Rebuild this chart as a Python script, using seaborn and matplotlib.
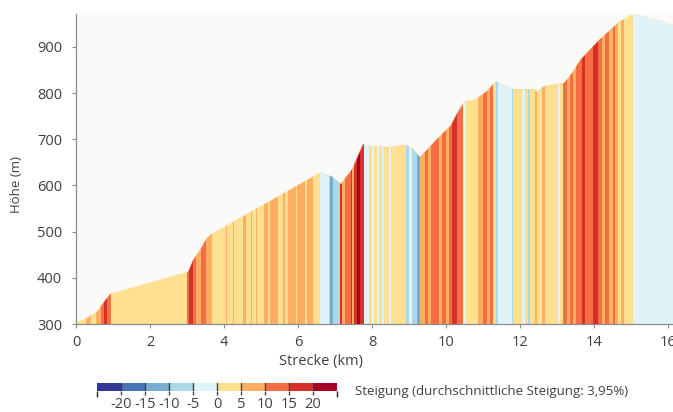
import numpy as np
import pandas as pd
import seaborn as sns
import matplotlib as mpl
import matplotlib.pyplot as plt
from matplotlib.colors import ListedColormap, BoundaryNorm

# -------------------------------
# data
# -------------------------------
# elevation profile: distance (km) / elevation (m)
distance_km = [0.00, 0.15, 0.29, 0.38, 0.56, 0.74, 0.92, 3.03, 3.16, 3.34, 3.52, 3.61,
               6.62, 6.94, 7.16, 7.30, 7.47, 7.76, 8.01, 8.46, 8.91, 9.09, 9.30, 9.72,
               10.13, 10.30, 10.49, 10.75, 11.07, 11.34, 11.52, 11.83, 12.37, 12.46,
               12.64, 13.18, 13.40, 13.63, 14.12, 14.66, 14.99, 15.20, 16.13]
elevation_m = [302, 309, 312, 317, 327, 346, 365, 413, 439, 460, 483, 493,
               628, 618, 603, 619, 635, 689, 685, 683, 688, 680, 662, 698,
               731, 756, 781, 784, 803, 825, 818, 808, 808, 803,
               815, 822, 843, 872, 915, 954, 969, 969, 948]

# gradient stripes: start of each stripe (km) and its gradient (%)
stripe_start = [0.00, 0.27, 0.40, 0.54, 0.67, 0.75, 0.84, 0.94, 2.99, 3.05, 3.15, 3.23,
                3.37, 3.50, 3.58, 3.67, 4.04, 4.07, 4.23, 4.26, 4.50, 4.60, 4.72, 4.75,
                4.85, 4.88, 5.07, 5.20, 5.24, 5.47, 5.58, 5.66, 5.74, 5.95, 5.98, 6.20,
                6.23, 6.39, 6.60,
                6.83, 6.87, 6.95, 7.14, 7.18, 7.28, 7.42, 7.47, 7.52, 7.60, 7.68,
                7.79, 7.92, 8.01, 8.06, 8.14, 8.19, 8.27, 8.33, 8.46, 8.52, 8.92, 9.00,
                9.08, 9.22, 9.30, 9.43, 9.50, 9.60,
                9.81, 9.90, 10.00, 10.08, 10.16, 10.30, 10.46, 10.54, 10.86, 11.00, 11.11,
                11.19, 11.27, 11.35, 11.40, 11.78, 11.81, 12.05, 12.13, 12.21, 12.26,
                12.40, 12.45, 12.59, 12.67, 13.02, 13.07, 13.15, 13.26, 13.35, 13.42,
                13.50, 13.67, 13.75, 13.96, 14.10, 14.20, 14.30, 14.40, 14.50, 14.55,
                14.64, 14.72, 14.80, 14.96, 15.04]
stripe_grade = [3, 7, 3, 7, 12, 17, 12, 3, 12, 18, 12, 7,
                12, 7, 8, 3, 7, 3, 7, 3, 7, 3, 7, 3,
                7, 3, 7, 3, 7, 3, 7, 3, 7, 3, 7, 3,
                7, 3, -3,
                -8, -12, -8, 18, 7, 12, 18, 7, 18, 22, 18,
                -3, 3, -3, 3, -3, 3, -3, 3, -3, 3, -8, -3,
                -8, -12, 7, 12, 7, 12,
                7, 12, 7, 12, 18, 12, -3, 3, 7, 12, 7,
                12, 3, -8, -3, -8, 3, -3, 3, -8, 3,
                7, 3, 7, 3, -3, 3, 12, 7, 12, 7,
                12, 18, 12, 18, 12, 7, 12, 7, 12, 7,
                3, 7, 3, 1, -3]
x_end_km = 16.13

grade_ticks = [-20, -15, -10, -5, 0, 5, 10, 15, 20]
grade_bounds = [-25, -20, -15, -10, -5, 0, 5, 10, 15, 20, 25]
grade_colours = ['#313695', '#4575b4', '#74add1', '#abd9e9', '#e0f3f8',
                 '#fee090', '#fdae61', '#f46d43', '#d73027', '#a50026']
avg_grade_text = 'Steigung (durchschnittliche Steigung: 3,95%)'

# -------------------------------
# plot
# -------------------------------
sns.set_theme(style='white')
plt.rcParams['font.family'] = ['Open Sans', 'DejaVu Sans']
text_col = '#404040'

profile = pd.DataFrame({'Strecke (km)': distance_km, 'Höhe (m)': elevation_m})

fig = plt.figure(figsize=(6.73, 4.12), dpi=100)
fig.patch.set_facecolor('white')
ax = fig.add_axes([76 / 673, 1 - 324 / 412, 1 - 76 / 673, 310 / 412])
ax.set_facecolor('#fafaf9')

cmap = ListedColormap(grade_colours)
norm = BoundaryNorm(grade_bounds, cmap.N)

# area under the profile, used as clip region for the gradient stripes
area = ax.fill_between(profile['Strecke (km)'], profile['Höhe (m)'], 300,
                       color='none', linewidth=0)
edges = np.array(stripe_start + [x_end_km])
mesh = ax.pcolormesh(edges, [300, 1000], np.array([stripe_grade]),
                     cmap=cmap, norm=norm, shading='flat')
mesh.set_clip_path(area.get_paths()[0], ax.transData)

sns.lineplot(data=profile, x='Strecke (km)', y='Höhe (m)', ax=ax,
             color='#fdd58a', linewidth=0.4, alpha=0.5)

ax.set_xlim(0, x_end_km)
ax.set_ylim(300, 971)
ax.set_xticks(range(0, 17, 2))
ax.set_yticks(range(300, 1000, 100))
sns.despine(ax=ax)
for side in ['left', 'bottom']:
    ax.spines[side].set_color('#8c8c8c')
    ax.spines[side].set_linewidth(0.9)
ax.tick_params(axis='both', which='major', length=3, width=0.8, color='#8c8c8c',
               labelsize=10.5, labelcolor=text_col, bottom=True, left=True)
ax.tick_params(axis='x', pad=5)
ax.tick_params(axis='y', pad=7)
ax.set_xlabel('Strecke (km)', fontsize=10.5, color=text_col)
ax.set_ylabel('Höhe (m)', fontsize=9.5, color=text_col)
ax.xaxis.set_label_coords(0.41, -0.098)
ax.yaxis.set_label_coords(-0.088, 0.45)

# colour bar
cax = fig.add_axes([97 / 673, 1 - 391 / 412, 240 / 673, 8 / 412])
cb = fig.colorbar(mpl.cm.ScalarMappable(norm=norm, cmap=cmap), cax=cax,
                  orientation='horizontal', ticks=grade_ticks)
cb.outline.set_visible(False)
for t in grade_ticks:
    cax.axvline(t, color='#444444', linewidth=1.0)
cax.tick_params(length=3, width=1.0, color='#444444', labelsize=10.5,
                labelcolor=text_col, pad=1)
cax.set_xticklabels([str(t) for t in grade_ticks])
fig.text(355 / 673, 1 - 391 / 412, avg_grade_text, fontsize=9.5, color=text_col,
         va='center', ha='left')

fig.savefig('out.png', dpi=100)
